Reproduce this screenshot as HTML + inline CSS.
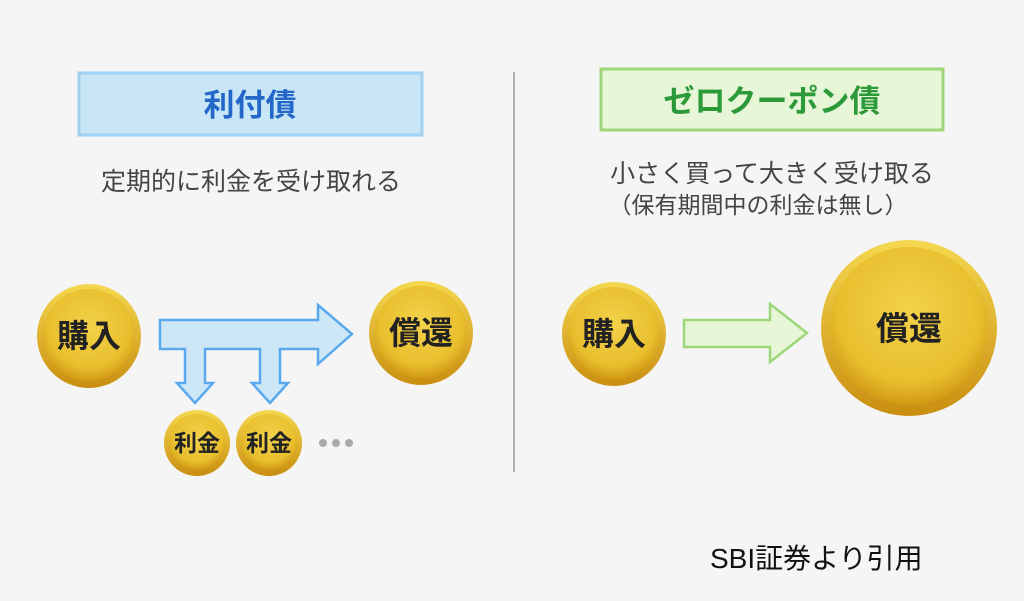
<!DOCTYPE html>
<html><head><meta charset="utf-8"><style>
html,body{margin:0;padding:0;background:#f5f5f5;}
svg{display:block;}
text{font-family:"Liberation Sans","Noto Sans CJK JP",sans-serif;}
</style></head><body>
<svg width="1024" height="601" viewBox="0 0 1024 601" xmlns="http://www.w3.org/2000/svg">
<defs>
<radialGradient id="g" cx="50%" cy="40%" r="60%">
<stop offset="0" stop-color="#f3d24a"/><stop offset="0.75" stop-color="#e8bf2e"/><stop offset="1" stop-color="#d29a14"/>
</radialGradient>
<linearGradient id="rim" x1="0" y1="0" x2="0" y2="1">
<stop offset="0" stop-color="#f5d850"/><stop offset="1" stop-color="#c98e10"/>
</linearGradient>
</defs>
<rect width="1024" height="601" fill="#f5f5f5"/>
<rect x="79" y="73" width="343" height="62" fill="#c8e6f6" stroke="#9fd0ef" stroke-width="3"/>
<text x="250" y="116" font-size="31" font-weight="bold" fill="#2467c9" text-anchor="middle">利付債</text>
<rect x="601" y="69" width="342" height="61" fill="#e6f6d6" stroke="#9ed67a" stroke-width="3"/>
<text x="772" y="112" font-size="31" font-weight="bold" fill="#2d9a3a" text-anchor="middle">ゼロクーポン債</text>
<line x1="514" y1="72" x2="514" y2="472" stroke="#999" stroke-width="1.5"/>
<text x="251" y="190" font-size="25" fill="#444" text-anchor="middle">定期的に利金を受け取れる</text>
<text x="772" y="182" font-size="25" fill="#444" text-anchor="middle">小さく買って大きく受け取る</text>
<text x="758" y="213" font-size="23" fill="#444" text-anchor="middle">（保有期間中の利金は無し）</text>
<path d="M160,320 L318,320 L318,305 L352,334 L318,364 L318,349 L280,349 L280,383 L288,383 L270,403 L252,383 L260,383 L260,349 L205,349 L205,383 L213,383 L195,403 L177,383 L185,383 L185,349 L160,349 Z" fill="#cde7f7" stroke="#5aa9ee" stroke-width="2.5" stroke-linejoin="miter"/>
<path d="M684,320 L770,320 L770,304 L807,333 L770,362 L770,347 L684,347 Z" fill="#e6f6d6" stroke="#9ed67a" stroke-width="2.5"/>
<g>
<circle cx="89" cy="336" r="52" fill="url(#rim)"/><circle cx="89" cy="335" r="46" fill="url(#g)"/>
<text x="89" y="347" font-size="32" font-weight="bold" fill="#222" text-anchor="middle">購入</text>
<circle cx="421" cy="333" r="52" fill="url(#rim)"/><circle cx="421" cy="332" r="46" fill="url(#g)"/>
<text x="421" y="344" font-size="32" font-weight="bold" fill="#222" text-anchor="middle">償還</text>
<circle cx="197" cy="443" r="33" fill="url(#rim)"/><circle cx="197" cy="442" r="28" fill="url(#g)"/>
<text x="197" y="451" font-size="23" font-weight="bold" fill="#222" text-anchor="middle">利金</text>
<circle cx="269" cy="443" r="33" fill="url(#rim)"/><circle cx="269" cy="442" r="28" fill="url(#g)"/>
<text x="269" y="451" font-size="23" font-weight="bold" fill="#222" text-anchor="middle">利金</text>
<circle cx="323" cy="443" r="4" fill="#aaa"/><circle cx="336" cy="443" r="4" fill="#aaa"/><circle cx="349" cy="443" r="4" fill="#aaa"/>
<circle cx="614" cy="334" r="52" fill="url(#rim)"/><circle cx="614" cy="333" r="46" fill="url(#g)"/>
<text x="614" y="345" font-size="32" font-weight="bold" fill="#222" text-anchor="middle">購入</text>
<circle cx="909" cy="328" r="88" fill="url(#rim)"/><circle cx="909" cy="326" r="79" fill="url(#g)"/>
<text x="909" y="340" font-size="33" font-weight="bold" fill="#222" text-anchor="middle">償還</text>
</g>
<text x="710" y="568" font-size="28" fill="#111">SBI証券より引用</text>
</svg>
</body></html>
